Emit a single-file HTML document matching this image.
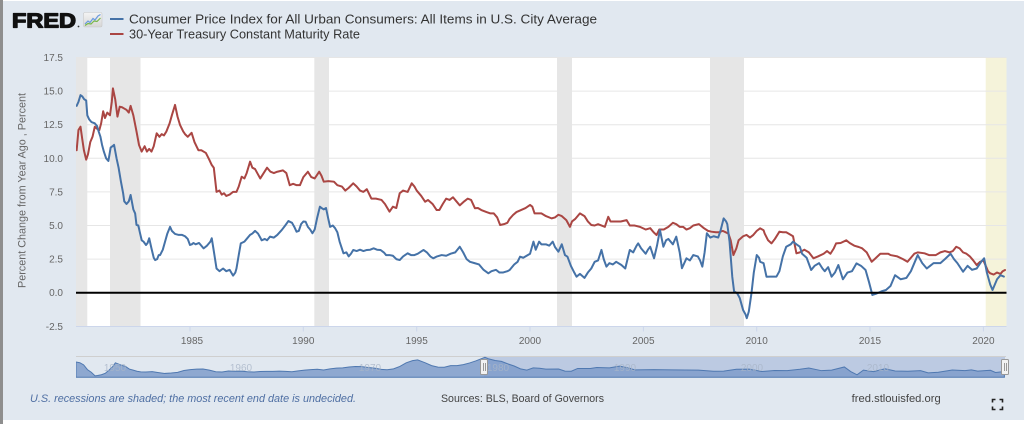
<!DOCTYPE html>
<html><head><meta charset="utf-8"><style>
html,body{margin:0;padding:0;background:#fff;}
svg{display:block;font-family:"Liberation Sans",Arial,sans-serif;}
</style></head><body>
<svg width="1024" height="424" viewBox="0 0 1024 424" xmlns="http://www.w3.org/2000/svg">
<defs>
<clipPath id="pc" clipPathUnits="userSpaceOnUse"><rect x="76" y="56" width="931" height="271"/></clipPath>
<clipPath id="nc" clipPathUnits="userSpaceOnUse"><rect x="76" y="356" width="930" height="22"/></clipPath>
<linearGradient id="ig" x1="0" y1="0" x2="0" y2="1"><stop offset="0" stop-color="#f4f4f4"/><stop offset="1" stop-color="#d6d6d6"/></linearGradient>
</defs>
<!-- panel -->
<rect x="0" y="0" width="1024" height="424" fill="#ffffff"/>
<rect x="3" y="1" width="1021" height="419" fill="#e1e8f0"/>
<rect x="0" y="0" width="3" height="424" fill="#8e8e8e"/>

<!-- header -->
<text x="12" y="27.3" font-size="20.5" font-weight="bold" fill="#111" stroke="#111" stroke-width="1.3" stroke-linejoin="round" textLength="64" lengthAdjust="spacingAndGlyphs">FRED</text>
<circle cx="78.5" cy="26.5" r="0.9" fill="#333"/>
<rect x="83.5" y="12.5" width="18.5" height="14.5" rx="1.5" fill="url(#ig)" stroke="#c8c8c8" stroke-width="0.6"/>
<polyline points="85,24 88,21 90,22.5 93,18.5 95,20 98,16 100.5,14.5" fill="none" stroke="#6a9be0" stroke-width="1.2"/>
<polyline points="85,25.5 88,23.5 91,24 94,21 97,21.5 100.5,18" fill="none" stroke="#78b84a" stroke-width="1.2"/>

<line x1="110" y1="19" x2="123.5" y2="19" stroke="#4572a7" stroke-width="2"/>
<text x="129" y="23.5" font-size="12.5" fill="#333" textLength="468" lengthAdjust="spacingAndGlyphs">Consumer Price Index for All Urban Consumers: All Items in U.S. City Average</text>
<line x1="110" y1="34" x2="123.5" y2="34" stroke="#aa4643" stroke-width="2"/>
<text x="129" y="38.5" font-size="12.5" fill="#333" textLength="231" lengthAdjust="spacingAndGlyphs">30-Year Treasury Constant Maturity Rate</text>

<!-- plot background -->
<rect x="76" y="57" width="930.5" height="269.3" fill="#ffffff"/>
<!-- recessions -->
<g fill="#e6e6e6">
<rect x="76" y="57" width="11.3" height="269.3"/>
<rect x="110" y="57" width="30.5" height="269.3"/>
<rect x="314.3" y="57" width="14.7" height="269.3"/>
<rect x="557" y="57" width="15" height="269.3"/>
<rect x="710" y="57" width="34" height="269.3"/>
</g>
<rect x="985.7" y="57" width="20.8" height="269.3" fill="#f5f3da"/>
<!-- gridlines -->
<g stroke="#e6e6e6" stroke-width="1">
<line x1="76" y1="57.5" x2="1006.5" y2="57.5"/>
<line x1="76" y1="91.1" x2="1006.5" y2="91.1"/>
<line x1="76" y1="124.7" x2="1006.5" y2="124.7"/>
<line x1="76" y1="158.3" x2="1006.5" y2="158.3"/>
<line x1="76" y1="191.9" x2="1006.5" y2="191.9"/>
<line x1="76" y1="225.5" x2="1006.5" y2="225.5"/>
<line x1="76" y1="259.1" x2="1006.5" y2="259.1"/>
</g>
<line x1="76" y1="326.5" x2="1006.5" y2="326.5" stroke="#ccd6eb" stroke-width="1"/>
<g stroke="#ccd6eb" stroke-width="1">
<line x1="190" y1="326.5" x2="190" y2="331.5"/>
<line x1="303.3" y1="326.5" x2="303.3" y2="331.5"/>
<line x1="416.7" y1="326.5" x2="416.7" y2="331.5"/>
<line x1="530" y1="326.5" x2="530" y2="331.5"/>
<line x1="643.4" y1="326.5" x2="643.4" y2="331.5"/>
<line x1="756.7" y1="326.5" x2="756.7" y2="331.5"/>
<line x1="870" y1="326.5" x2="870" y2="331.5"/>
<line x1="983.4" y1="326.5" x2="983.4" y2="331.5"/>
</g>

<!-- y labels -->
<g font-size="10" fill="#666" text-anchor="end">
<text x="63" y="61">17.5</text>
<text x="63" y="94.6">15.0</text>
<text x="63" y="128.2">12.5</text>
<text x="63" y="161.8">10.0</text>
<text x="63" y="195.4">7.5</text>
<text x="63" y="229">5.0</text>
<text x="63" y="262.6">2.5</text>
<text x="63" y="296.2">0.0</text>
<text x="63" y="329.8">-2.5</text>
</g>
<text transform="translate(25.5,190.5) rotate(-90)" font-size="11" fill="#666" text-anchor="middle" textLength="195" lengthAdjust="spacingAndGlyphs">Percent Change from Year Ago , Percent</text>

<!-- x labels -->
<g font-size="10" fill="#666" text-anchor="middle">
<text x="192" y="344">1985</text>
<text x="303.3" y="344">1990</text>
<text x="416.7" y="344">1995</text>
<text x="530" y="344">2000</text>
<text x="643.4" y="344">2005</text>
<text x="756.7" y="344">2010</text>
<text x="870" y="344">2015</text>
<text x="983.4" y="344">2020</text>
</g>

<!-- series -->
<g clip-path="url(#pc)">
<g transform="translate(76.65,292.7) scale(22.67,-13.44)" fill="none" stroke-linejoin="round" stroke-linecap="round">
<polyline vector-effect="non-scaling-stroke" stroke="#aa4643" stroke-width="2" points="0,10.6 0.08,12.1 0.17,12.35 0.25,11.4 0.32,10.6 0.42,9.9 0.5,10.3 0.6,11.2 0.7,11.6 0.8,12.35 0.9,12.2 1.0,12.1 1.08,12.6 1.17,13.5 1.25,13.0 1.35,13.4 1.47,13.2 1.55,14.2 1.6,15.2 1.7,14.4 1.8,13.1 1.9,13.84 2.0,13.8 2.1,13.7 2.2,13.6 2.3,13.4 2.38,13.9 2.5,13.2 2.64,12.0 2.75,11.0 2.87,10.5 3.0,10.9 3.1,10.5 3.2,10.7 3.3,10.5 3.4,10.9 3.53,11.86 3.65,11.6 3.75,11.8 3.85,11.7 3.96,12.0 4.1,12.6 4.2,13.2 4.34,13.97 4.45,13.1 4.56,12.48 4.7,12.0 4.78,11.8 4.9,11.6 5.07,11.9 5.2,11.2 5.37,10.6 5.5,10.6 5.7,10.4 5.85,9.9 5.96,9.5 6.05,9.3 6.17,7.5 6.3,7.6 6.4,7.3 6.5,7.4 6.6,7.2 6.75,7.3 6.9,7.5 7.05,7.5 7.15,7.9 7.28,8.63 7.4,8.5 7.5,8.9 7.65,9.75 7.75,9.3 7.87,9.2 8.0,8.8 8.1,8.5 8.25,8.9 8.4,9.3 8.55,9.0 8.7,8.9 8.85,9.0 9.1,9.1 9.25,8.9 9.4,8.0 9.55,8.1 9.7,8.0 9.85,8.0 10.0,8.6 10.2,9.0 10.35,8.6 10.5,8.5 10.7,9.0 10.8,8.7 10.9,8.26 11.1,8.3 11.35,8.26 11.5,8.0 11.7,7.9 11.85,7.6 12.0,7.8 12.2,8.14 12.35,7.9 12.5,7.6 12.65,7.5 12.8,7.7 13.0,7.0 13.2,7.0 13.45,6.9 13.6,6.6 13.8,6.03 13.95,6.4 14.1,6.3 14.25,7.4 14.4,7.6 14.6,7.5 14.78,8.14 14.9,7.9 15.0,7.6 15.2,7.2 15.37,6.77 15.5,6.9 15.7,6.6 15.88,6.15 16.0,6.15 16.15,6.6 16.3,7.0 16.45,6.9 16.6,7.1 16.75,6.8 16.9,6.5 17.1,6.8 17.25,7.0 17.4,6.9 17.57,6.28 17.7,6.3 17.85,6.15 18.08,6.0 18.25,5.9 18.4,5.9 18.55,5.6 18.68,5.04 18.85,5.1 19.0,5.2 19.1,5.5 19.25,5.78 19.4,6.0 19.6,6.15 19.8,6.3 20.0,6.53 20.1,6.4 20.2,5.9 20.35,5.9 20.5,5.9 20.7,5.7 20.95,5.53 21.1,5.6 21.25,5.8 21.4,5.7 21.6,5.4 21.76,4.9 21.85,5.3 22.0,5.5 22.2,5.9 22.4,5.7 22.55,5.3 22.7,5.04 22.85,5.0 23.0,5.1 23.3,4.9 23.45,5.65 23.55,5.3 23.75,5.3 24.0,5.3 24.26,5.4 24.4,5.0 24.6,5.0 24.85,4.9 25.1,4.7 25.3,4.8 25.45,4.5 25.58,4.29 25.7,4.7 25.9,4.7 26.1,4.9 26.3,5.2 26.45,5.1 26.6,4.9 26.75,4.9 26.9,4.7 27.05,4.8 27.2,5.0 27.45,5.1 27.67,4.8 27.85,4.6 28.0,4.54 28.2,4.5 28.35,4.5 28.5,4.6 28.75,4.4 28.85,3.9 28.97,2.8 29.1,3.3 29.2,3.9 29.4,4.2 29.55,4.3 29.7,4.1 29.85,4.3 30.0,4.6 30.15,4.79 30.3,4.65 30.35,4.4 30.5,3.9 30.65,3.67 30.8,4.0 31.0,4.54 31.15,4.5 31.3,4.5 31.5,4.3 31.6,4.2 31.75,2.93 31.9,3.0 32.1,3.2 32.3,3.0 32.5,2.56 32.7,2.7 32.95,2.9 33.1,3.1 33.25,2.9 33.4,3.3 33.5,3.67 33.7,3.7 33.95,3.9 34.1,3.7 34.3,3.5 34.5,3.4 34.65,3.3 34.85,3.0 35.07,2.3 35.2,2.5 35.45,2.9 35.6,2.9 35.8,2.9 35.9,2.8 36.2,2.7 36.45,2.5 36.65,2.3 36.8,2.6 36.95,2.9 37.1,3.0 37.4,2.93 37.6,2.8 37.9,2.8 38.1,3.0 38.3,3.1 38.5,3.0 38.65,3.1 38.8,3.42 38.95,3.3 39.1,3.0 39.25,2.9 39.4,2.7 39.55,2.4 39.7,2.06 39.85,2.3 40.0,2.4 40.1,2.0 40.2,1.6 40.3,1.44 40.45,1.35 40.6,1.5 40.75,1.4 40.85,1.6 40.95,1.69"/>
<polyline vector-effect="non-scaling-stroke" stroke="#4572a7" stroke-width="2" points="0,13.9 0.08,14.2 0.17,14.7 0.25,14.6 0.33,14.4 0.42,14.3 0.47,13.2 0.55,12.9 0.65,12.7 0.8,12.6 0.9,12.4 0.97,12.0 1.05,11.6 1.12,11.0 1.2,10.5 1.3,10.0 1.4,9.8 1.5,10.8 1.58,10.9 1.65,11.0 1.76,10.0 1.85,9.3 1.95,8.3 2.05,7.4 2.1,6.8 2.2,6.6 2.3,6.8 2.38,7.27 2.5,6.2 2.58,5.9 2.64,5.04 2.72,5.0 2.8,4.4 2.87,3.9 2.95,3.8 3.06,3.55 3.13,3.7 3.2,4.05 3.3,3.3 3.4,2.6 3.46,2.43 3.55,2.5 3.62,2.8 3.68,2.8 3.8,3.2 3.9,3.8 4.0,4.4 4.12,4.9 4.2,4.6 4.34,4.37 4.5,4.3 4.65,4.3 4.78,4.2 4.9,4.0 5.0,3.55 5.08,3.6 5.15,3.7 5.25,3.6 5.4,3.7 5.6,3.3 5.75,3.5 5.9,3.8 5.96,4.05 6.05,3.1 6.17,1.8 6.3,1.6 6.46,1.8 6.6,1.6 6.75,1.7 6.9,1.27 7.0,1.5 7.05,1.8 7.15,2.8 7.24,3.67 7.4,3.8 7.5,4.0 7.65,4.3 7.75,4.4 7.87,4.6 8.0,4.4 8.1,4.1 8.16,3.9 8.3,4.0 8.4,3.9 8.53,4.17 8.7,4.1 8.85,4.3 9.05,4.67 9.2,5.0 9.34,5.33 9.5,5.2 9.6,4.9 9.7,4.54 9.8,4.6 9.9,5.1 10.0,5.3 10.1,5.28 10.2,4.9 10.3,4.7 10.4,4.42 10.5,4.7 10.6,5.5 10.73,6.4 10.8,6.3 10.9,6.2 11.0,6.3 11.1,5.5 11.18,4.9 11.3,5.0 11.4,4.8 11.5,4.5 11.6,3.8 11.77,2.93 11.9,3.0 12.0,2.7 12.1,2.9 12.2,3.18 12.35,3.1 12.5,3.2 12.65,3.1 12.8,3.18 12.95,3.2 13.1,3.3 13.25,3.2 13.4,3.18 13.55,3.0 13.65,2.8 13.8,2.8 13.95,2.75 14.1,2.5 14.25,2.43 14.4,2.7 14.6,2.93 14.75,2.8 14.9,2.8 15.05,2.9 15.3,3.18 15.45,3.0 15.6,2.7 15.73,2.56 15.9,2.7 16.1,2.8 16.3,2.75 16.5,2.9 16.7,3.0 16.9,3.42 17.05,3.0 17.2,2.5 17.35,2.3 17.55,2.2 17.75,2.1 17.95,1.7 18.16,1.44 18.3,1.6 18.5,1.7 18.65,1.5 18.8,1.5 19.0,1.6 19.1,1.69 19.3,2.1 19.45,2.3 19.56,2.68 19.7,2.6 19.85,2.75 20.0,2.9 20.15,3.8 20.25,3.2 20.4,3.8 20.5,3.6 20.7,3.6 20.85,3.5 21.0,3.8 21.1,3.4 21.25,3.05 21.4,3.6 21.54,2.8 21.65,2.68 21.8,2.0 21.95,1.5 22.05,1.19 22.2,1.4 22.4,1.1 22.55,1.5 22.7,1.8 22.85,2.3 23.0,2.4 23.15,3.18 23.25,2.5 23.37,1.94 23.5,2.2 23.65,2.1 23.8,2.3 24.03,2.06 24.2,1.8 24.3,2.5 24.4,3.18 24.55,3.0 24.7,3.5 24.77,3.67 24.9,3.3 25.1,2.9 25.2,3.2 25.3,3.42 25.47,2.56 25.6,3.5 25.73,4.67 25.88,3.42 26.0,3.9 26.1,4.0 26.3,3.6 26.45,4.17 26.6,3.0 26.7,1.82 26.9,2.56 27.05,2.4 27.2,2.8 27.4,2.7 27.5,2.4 27.6,1.94 27.7,3.0 27.8,4.42 27.95,4.1 28.1,4.2 28.3,4.1 28.4,4.6 28.54,5.53 28.65,5.3 28.7,5.1 28.8,3.8 28.92,1.19 29.0,0.1 29.14,-0.05 29.25,-0.4 29.4,-1.3 29.5,-1.6 29.56,-1.9 29.65,-1.4 29.77,0.0 29.87,1.5 30.0,2.8 30.1,2.6 30.15,2.3 30.3,2.2 30.43,1.19 30.6,1.2 30.87,1.2 31.0,1.6 31.15,2.7 31.3,3.42 31.5,3.6 31.6,3.8 31.75,3.6 31.9,3.42 32.0,2.9 32.2,2.6 32.4,1.69 32.55,2.0 32.75,2.2 32.9,1.8 33.0,1.6 33.15,1.9 33.3,1.19 33.45,1.5 33.6,2.06 33.8,1.0 34.0,1.5 34.2,1.6 34.4,2.18 34.6,2.0 34.8,1.69 34.95,0.8 35.1,-0.17 35.3,-0.05 35.5,0.1 35.7,0.2 35.9,0.5 36.1,1.3 36.35,1.0 36.6,1.1 36.8,1.6 37.0,2.4 37.1,2.8 37.3,2.2 37.5,1.8 37.65,2.0 37.8,2.2 38.1,2.2 38.3,2.5 38.55,2.9 38.7,2.5 38.85,2.2 39.1,1.56 39.3,2.0 39.5,1.7 39.7,1.8 39.9,2.3 40.03,2.56 40.15,1.5 40.3,0.6 40.4,0.2 40.5,0.6 40.6,1.0 40.75,1.3 40.9,1.2"/>
</g>
</g>
<line x1="76" y1="292.7" x2="1006.5" y2="292.7" stroke="#000" stroke-width="2"/>

<!-- navigator -->
<rect x="484" y="356" width="521" height="21.5" fill="#bccae2"/>
<line x1="76" y1="356.5" x2="1006" y2="356.5" stroke="#cfcfcf" stroke-width="1"/>
<g clip-path="url(#nc)">
<g transform="translate(76,372.8) scale(12.7,-1.06)">
<path vector-effect="non-scaling-stroke" fill="#7f9cca" fill-opacity="0.85" stroke="#4f78b0" stroke-width="1" d="M0,-4.2 L0,10.2 0.3,9.5 0.6,7.5 0.9,3 1.2,0.5 1.5,-2.9 1.7,-2.5 2.0,-1.8 2.3,-0.5 2.6,2.5 2.9,6 3.1,9.4 3.3,8.5 3.6,7 3.9,6 4.2,3.5 4.5,2.5 4.8,1.5 5.1,0.9 5.5,0.8 6.0,1.1 6.5,0.2 7.0,-0.6 7.5,-0.2 8.0,0.4 8.5,2.2 9.0,3 9.5,3.5 10.0,3.6 10.5,2.5 11.0,1.0 11.5,0.8 12.0,1.7 12.5,1.5 13.0,1.6 13.5,1.0 14.0,0.7 14.5,1.2 15.0,1.3 15.5,1.3 16.0,1.6 16.5,1.3 17.0,1.0 17.5,1.8 18.0,2.5 18.5,3.0 19.0,3.3 19.5,2.7 20.0,3.7 20.5,4.4 21.0,4.7 21.5,5.5 22.0,6.0 22.5,5.8 23.0,5.0 23.5,4.4 24.0,3.3 24.5,2.9 25.0,3.7 25.5,6.0 26.0,9.4 26.5,11.5 26.9,12.2 27.5,9.4 28.0,6.8 28.5,5.4 29.0,5.2 29.5,6.8 30.0,6.8 30.5,7.7 31.0,9.3 31.5,11.3 32.2,14.6 32.5,13.1 33.0,11.6 33.5,10.8 34.0,8.4 34.5,6.4 35.0,3.7 35.5,2.5 36.0,4.6 36.5,4.3 37.0,3.5 38.0,3.6 38.5,1.6 39.0,1.5 39.5,4.1 40.5,4.1 41.0,5.0 42.0,4.6 42.8,6.3 43.5,4.5 44.0,2.8 45.5,3.0 47.0,2.8 49.0,2.5 50.2,1.5 51.0,1.6 52.0,3.4 53.0,3.5 54.0,1.2 55.0,2.2 56.0,2.0 57.0,3.3 57.7,4.5 58.7,2.0 59.5,2.5 60.5,5.5 61.0,1.2 61.5,-1.9 62.0,2.5 62.8,1.1 63.7,3.8 64.5,1.7 65.5,1.5 66.5,2.0 67.1,-0.1 67.9,0.5 69.0,2.6 70.0,2.1 70.5,2.8 71.0,1.6 72.0,2.4 72.4,0.3 73.1,1.2 L73.1,-4.2 Z"/>
</g>
</g>
<g font-size="10" fill="#a9b6c8" text-anchor="middle" opacity="0.8">
<text x="115" y="371">1950</text>
<text x="241" y="371">1960</text>
<text x="370" y="371">1970</text>
<text x="498" y="371">1980</text>
<text x="625" y="371">1990</text>
<text x="752" y="371">2000</text>
<text x="878" y="371">2010</text>
</g>
<g fill="#f2f2f2" stroke="#999" stroke-width="1">
<rect x="480.5" y="359.5" width="7" height="15" rx="1"/>
<rect x="1001.5" y="359.5" width="7" height="15" rx="1"/>
</g>
<g stroke="#999" stroke-width="1">
<line x1="483.5" y1="363" x2="483.5" y2="371"/>
<line x1="485.5" y1="363" x2="485.5" y2="371"/>
<line x1="1004.5" y1="363" x2="1004.5" y2="371"/>
<line x1="1006.5" y1="363" x2="1006.5" y2="371"/>
</g>

<!-- footer -->
<text x="30" y="402" font-size="11" font-style="italic" fill="#4f6fa3" textLength="326" lengthAdjust="spacingAndGlyphs">U.S. recessions are shaded; the most recent end date is undecided.</text>
<text x="441" y="402" font-size="11" fill="#444" textLength="163" lengthAdjust="spacingAndGlyphs">Sources: BLS, Board of Governors</text>
<text x="851.7" y="402" font-size="11" fill="#444" textLength="89" lengthAdjust="spacingAndGlyphs">fred.stlouisfed.org</text>
<g stroke="#222" stroke-width="1.6" fill="none">
<polyline points="992.5,402.5 992.5,399.5 995.5,399.5"/>
<polyline points="999.5,399.5 1002.5,399.5 1002.5,402.5"/>
<polyline points="992.5,406.5 992.5,409.5 995.5,409.5"/>
<polyline points="999.5,409.5 1002.5,409.5 1002.5,406.5"/>
</g>
</svg>
</body></html>
